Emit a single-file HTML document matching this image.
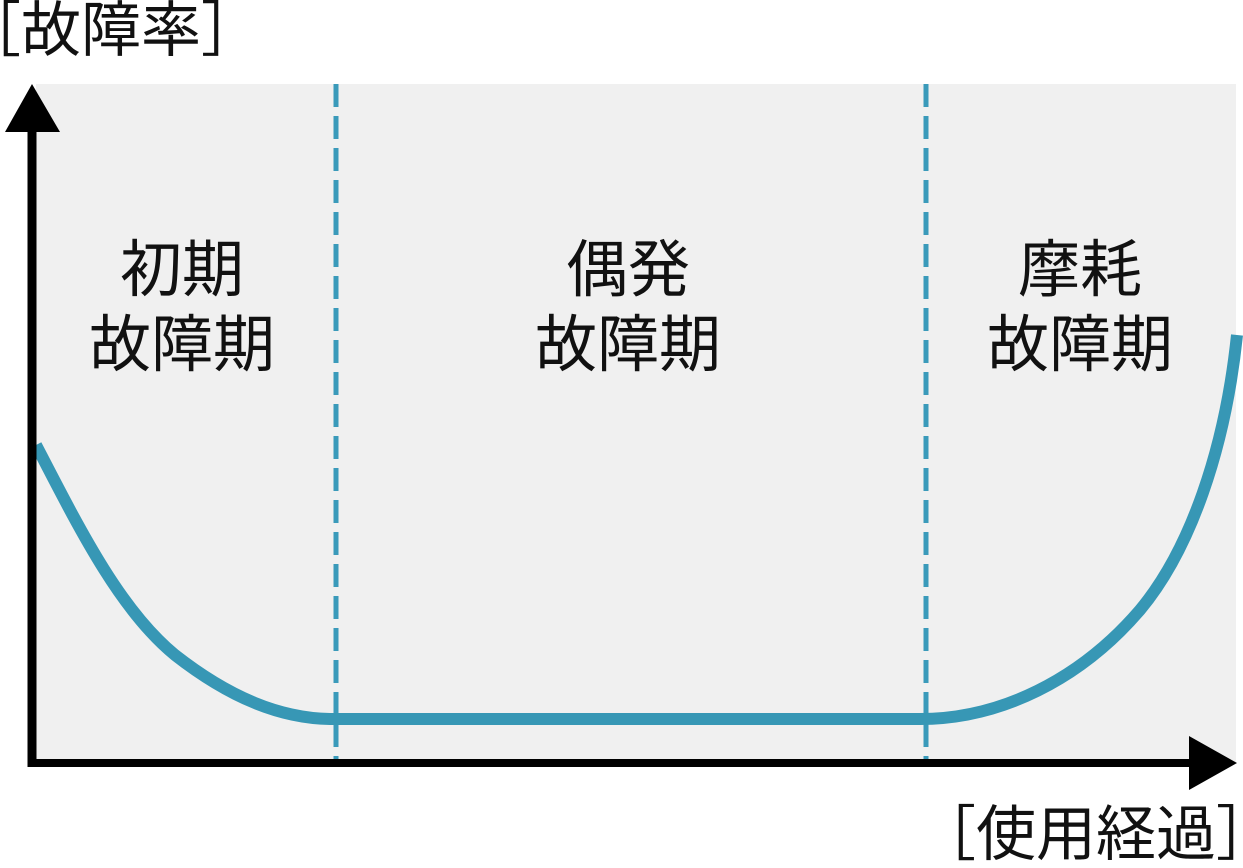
<!DOCTYPE html>
<html><head><meta charset="utf-8"><style>
body{margin:0;width:1243px;height:863px;background:#fff;overflow:hidden}
svg text{font-family:"Liberation Sans","Noto Sans CJK JP",sans-serif;fill:#111}
</style></head><body>
<svg width="1243" height="863" viewBox="0 0 1243 863">
<rect x="36" y="84" width="1200" height="678" fill="#f0f0f0"/>
<g stroke="#3a9aba" stroke-width="5" stroke-dasharray="23 9">
<line x1="336" y1="84" x2="336" y2="760"/>
<line x1="926" y1="84" x2="926" y2="760"/>
</g>
<path d="M36 445 C80 530 120 610 175 655 C230 698 280 718 330 719 L920 719 C1000 719 1080 680 1140 610 C1190 550 1225 450 1237 335" fill="none" stroke="#3797b5" stroke-width="12"/>
<line x1="32" y1="128" x2="32" y2="767" stroke="#000" stroke-width="9"/>
<line x1="28" y1="763" x2="1192" y2="763" stroke="#000" stroke-width="8"/>
<polygon points="32,84 5,132 60,132" fill="#000"/>
<polygon points="1237,763 1189,736 1189,790" fill="#000"/>
<g font-size="62" text-anchor="middle">
<text x="182" y="291">初期</text>
<text x="182" y="366">故障期</text>
<text x="628" y="291">偶発</text>
<text x="628" y="366">故障期</text>
<text x="1080" y="291">摩耗</text>
<text x="1080" y="366">故障期</text>
</g>
<text x="-39" y="51" font-size="60">［故障率］</text>
<text x="1276" y="855" font-size="60" text-anchor="end">［使用経過］</text>
</svg>
</body></html>
